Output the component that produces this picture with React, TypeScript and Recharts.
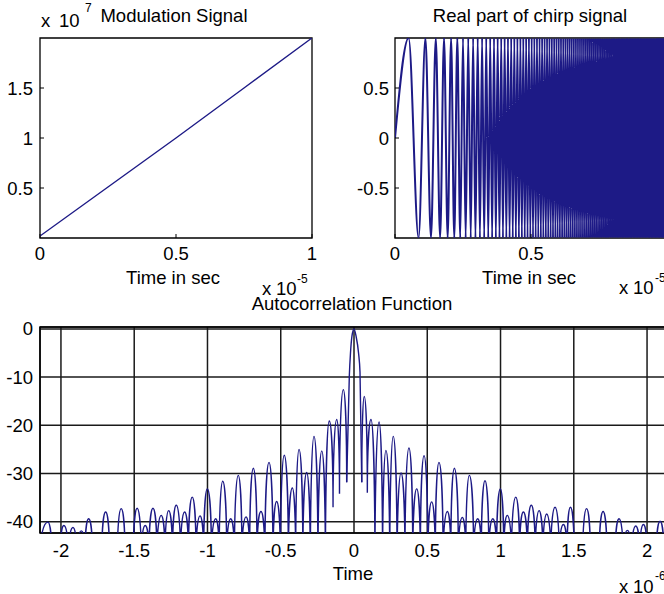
import React from 'react';
import { LineChart, Line, XAxis, YAxis, CartesianGrid, ReferenceArea } from 'recharts';

const FONT = '"Liberation Sans", Arial, Helvetica, sans-serif';
const LINE = '#1d1a86';

// ---------- Modulation signal (x 1e-5 s, x 1e7 Hz) ----------
const modTime = [0, 0.25, 0.5, 0.75, 1];
const modFreq = [0.02, 0.51, 1.0, 1.5, 2.0];
const modXTicks = [0, 0.5, 1];
const modYTicks = [0.5, 1, 1.5];

// ---------- Real part of chirp (x 1e-5 s) ----------
const chirpStartTime = 0;
const chirpStartValue = 0;
const chirpPeakValue = 1;
const chirpTroughValue = -1;
const chirpPeakTimes = [0.05, 0.1118, 0.15, 0.1803, 0.2062, 0.2291, 0.25, 0.2693, 0.2872, 0.3041, 0.3202, 0.3354, 0.35, 0.364, 0.3775, 0.3905, 0.4031, 0.4153, 0.4272, 0.4387, 0.45, 0.461, 0.4717, 0.4822, 0.4924, 0.5025, 0.5123, 0.522, 0.5315, 0.5408, 0.55, 0.559, 0.5678, 0.5766, 0.5852, 0.5937, 0.6021, 0.6103, 0.6185, 0.6265, 0.6344, 0.6422, 0.6499, 0.6576, 0.6652, 0.6727, 0.6801, 0.6874, 0.6946, 0.7018, 0.7089, 0.7159, 0.7228, 0.7297, 0.7365, 0.7433, 0.75, 0.7566, 0.7632, 0.7697, 0.7762, 0.7826, 0.789, 0.7953, 0.8016, 0.8078, 0.8139, 0.82, 0.8261, 0.8321, 0.8382, 0.8441, 0.85, 0.8558, 0.8617, 0.8675, 0.8732, 0.8789, 0.8846, 0.8902, 0.8958, 0.9013, 0.9068, 0.9123, 0.9178, 0.9233, 0.9287, 0.9341, 0.9394, 0.9447, 0.95, 0.9552, 0.9604, 0.9656, 0.9708, 0.976, 0.9811, 0.9861, 0.9912, 0.9962];
const chirpTroughTimes = [0.0866, 0.1323, 0.1658, 0.1936, 0.2179, 0.2398, 0.2598, 0.2784, 0.2958, 0.3122, 0.3279, 0.3428, 0.3571, 0.3708, 0.3841, 0.3969, 0.4093, 0.4213, 0.433, 0.4444, 0.4555, 0.4664, 0.477, 0.4873, 0.4975, 0.5074, 0.5172, 0.5268, 0.5362, 0.5454, 0.5545, 0.5634, 0.5723, 0.5809, 0.5895, 0.5979, 0.6062, 0.6144, 0.6225, 0.6305, 0.6383, 0.6461, 0.6538, 0.6614, 0.6689, 0.6764, 0.6837, 0.691, 0.6982, 0.7053, 0.7124, 0.7194, 0.7263, 0.7331, 0.7399, 0.7466, 0.7533, 0.7599, 0.7665, 0.773, 0.7794, 0.7858, 0.7921, 0.7984, 0.8047, 0.8108, 0.817, 0.8231, 0.8291, 0.8351, 0.8411, 0.847, 0.8529, 0.8588, 0.8646, 0.8703, 0.876, 0.8817, 0.8874, 0.893, 0.8986, 0.9041, 0.9096, 0.9151, 0.9206, 0.926, 0.9314, 0.9367, 0.9421, 0.9474, 0.9526, 0.9578, 0.9631, 0.9682, 0.9734, 0.9785, 0.9836, 0.9887, 0.9937, 0.9987];
const chirpXTicks = [0, 0.5];
const chirpYTicks = [-0.5, 0, 0.5];

// ---------- Autocorrelation (lag x 1e-6 s, dB): alternating nulls and lobe peaks ----------
const acLeft: [number, number][] = [
  [-2.143, -47], [-2.089, -40.1], [-2.063, -47], [-2.035, -44], [-2.006, -47], [-1.98, -40.8],
  [-1.949, -47], [-1.918, -41.2], [-1.891, -47], [-1.861, -41.9], [-1.836, -47], [-1.811, -39.4],
  [-1.785, -47], [-1.753, -44], [-1.721, -47], [-1.695, -38], [-1.669, -47], [-1.642, -44],
  [-1.615, -47], [-1.589, -37.3], [-1.563, -47], [-1.534, -44], [-1.506, -47], [-1.48, -37.2],
  [-1.452, -47], [-1.425, -40.8],
  [-1.399, -47], [-1.372, -37.2], [-1.345, -47], [-1.316, -38.7], [-1.29, -47], [-1.265, -37.7],
  [-1.239, -47], [-1.213, -36.6], [-1.184, -47], [-1.156, -38], [-1.13, -47], [-1.104, -34.9],
  [-1.078, -47], [-1.051, -38.8], [-1.026, -47], [-1.001, -33.2], [-0.973, -47], [-0.944, -39.4],
  [-0.92, -47], [-0.896, -31.6], [-0.869, -47], [-0.842, -39.4], [-0.816, -47], [-0.79, -30.4],
  [-0.765, -47], [-0.737, -39], [-0.712, -47], [-0.687, -28.9], [-0.662, -47], [-0.635, -37.9],
  [-0.608, -48], [-0.58, -27.7], [-0.553, -48], [-0.528, -35.8], [-0.502, -48], [-0.476, -26.2],
  [-0.448, -48], [-0.421, -33], [-0.398, -48], [-0.375, -25], [-0.349, -48], [-0.323, -29.8],
  [-0.298, -50], [-0.273, -22.3], [-0.246, -50], [-0.22, -25.3], [-0.195, -50], [-0.169, -19.1],
  [-0.143, -37], [-0.118, -18.8], [-0.099, -34.2], [-0.073, -12.6], [-0.05, -31.8],
];
const acMain: [number, number][] = [
  [-0.05, -31.8], [-0.032, -9.8], [-0.024, -5], [-0.014, -1.5], [0, 0],
  [0.014, -1.5], [0.031, -5], [0.041, -9], [0.053, -31.8],
];
const acRight: [number, number][] = [
  [0.053, -31.8], [0.07, -14], [0.091, -34], [0.116, -18.8], [0.143, -50], [0.171, -19.3], [0.195, -50],
  [0.218, -25.2], [0.244, -50], [0.268, -22.3], [0.294, -50], [0.321, -29.9], [0.348, -48],
  [0.375, -24.7], [0.401, -48], [0.428, -33.2], [0.453, -48], [0.478, -26.3], [0.504, -48],
  [0.53, -35.9], [0.555, -48], [0.58, -27.7], [0.608, -48], [0.637, -37.9], [0.661, -47],
  [0.685, -28.9], [0.712, -47], [0.739, -39.1], [0.763, -47], [0.787, -30.4], [0.816, -47],
  [0.844, -39.4], [0.869, -47], [0.894, -31.5], [0.92, -47], [0.947, -39.4], [0.973, -47],
  [0.999, -33.2], [1.022, -47], [1.046, -38.7], [1.075, -47], [1.104, -34.9], [1.13, -47],
  [1.156, -38], [1.183, -47], [1.21, -36.6], [1.237, -47], [1.263, -37.7], [1.289, -47],
  [1.315, -38.4], [1.343, -47], [1.372, -37], [1.401, -47], [1.429, -40.6], [1.454, -47],
  [1.477, -37], [1.503, -47], [1.532, -44], [1.561, -47], [1.587, -37.3], [1.613, -47],
  [1.643, -44], [1.674, -47], [1.7, -37.9], [1.726, -47], [1.754, -44], [1.783, -47],
  [1.809, -39.4], [1.837, -47], [1.866, -41.8], [1.894, -47], [1.923, -40.9], [1.949, -47],
  [1.975, -40.6], [2.001, -47], [2.032, -44], [2.063, -47], [2.089, -39.9], [2.115, -47], [2.143, -44],
];
const acXTicks = [-2, -1.5, -1, -0.5, 0, 0.5, 1, 1.5, 2];
const acYTicks = [-40, -30, -20, -10, 0];

// ---------- built tables ----------
const modData = modTime.map((t, i) => ({ t, v: modFreq[i] }));
const chirpData = [
  { t: chirpStartTime, v: chirpStartValue },
  ...[
    ...chirpPeakTimes.map((t) => ({ t, v: chirpPeakValue })),
    ...chirpTroughTimes.map((t) => ({ t, v: chirpTroughValue })),
  ].sort((a, b) => a.t - b.t),
];
const toRows = (pts: [number, number][]) => pts.map(([t, v]) => ({ t, v }));
const acLeftData = toRows(acLeft);
const acMainData = toRows(acMain);
const acRightData = toRows(acRight);

// Line style for dB side lobes: each segment leaves the lower point vertically and
// arrives at the upper point horizontally (quarter-ellipse arch).
function archCurve(context: any) {
  let pts: [number, number][] = [];
  const K = 0.5523;
  return {
    areaStart() {},
    areaEnd() {},
    lineStart() { pts = []; },
    lineEnd() {
      if (!pts.length) return;
      context.moveTo(pts[0][0], pts[0][1]);
      for (let i = 1; i < pts.length; i++) {
        const [x0, y0] = pts[i - 1];
        const [x1, y1] = pts[i];
        if (y1 < y0) {
          context.bezierCurveTo(x0, y0 + K * (y1 - y0), x1 - K * (x1 - x0), y1, x1, y1);
        } else {
          context.bezierCurveTo(x0 + K * (x1 - x0), y0, x1, y1 - K * (y1 - y0), x1, y1);
        }
      }
    },
    point(x: number, y: number) { pts.push([+x, +y]); },
  };
}

const FS = 18.5;
const tickStyle = { fill: '#000', fontSize: FS, fontFamily: FONT };
const tickLineStyle = { stroke: '#000', strokeWidth: 1 };

const AC_X: [number, number] = [-2.143, 2.143];
const AC_Y: [number, number] = [-42.35, 0.4];

export default function App() {
  return (
    <div style={{ position: 'absolute', left: 0, top: 0, width: 664, height: 594, overflow: 'hidden', background: '#fff' }}>
      {/* Top-left: Modulation Signal */}
      <div style={{ position: 'absolute', left: 0, top: 0 }}>
        <LineChart width={340} height={300} data={modData} margin={{ top: 37, right: 27, bottom: 32, left: 0 }}>
          <XAxis type="number" dataKey="t" domain={[0, 1]} ticks={modXTicks} allowDataOverflow height={30}
            tickLine={tickLineStyle} axisLine={false} tick={tickStyle} tickSize={-4} tickMargin={13} interval={0} />
          <XAxis xAxisId="top" orientation="top" type="number" dataKey="t" domain={[0, 1]} ticks={modXTicks} allowDataOverflow height={1}
            tickLine={tickLineStyle} axisLine={false} tick={false} tickSize={-4} interval={0} />
          <YAxis type="number" domain={[0, 2]} ticks={modYTicks} allowDataOverflow width={40}
            tickLine={tickLineStyle} axisLine={false} tick={tickStyle} tickSize={-4} tickMargin={11} interval={0} />
          <YAxis yAxisId="right" orientation="right" type="number" domain={[0, 2]} ticks={modYTicks} allowDataOverflow width={1}
            tickLine={tickLineStyle} axisLine={false} tick={false} tickSize={-4} interval={0} />
          <ReferenceArea x1={0} x2={1} y1={0} y2={2} fill="none" fillOpacity={0} stroke="#000" strokeWidth={1.3} />
          <Line type="linear" dataKey="v" stroke={LINE} strokeWidth={1.4} dot={false} isAnimationActive={false} />
        </LineChart>
      </div>

      {/* Top-right: Real part of chirp signal */}
      <div style={{ position: 'absolute', left: 332, top: 0 }}>
        <LineChart width={340} height={300} data={chirpData} margin={{ top: 37, right: 5, bottom: 32, left: 0 }}>
          <XAxis type="number" dataKey="t" domain={[0, 1]} ticks={chirpXTicks} allowDataOverflow height={30}
            tickLine={tickLineStyle} axisLine={false} tick={tickStyle} tickSize={-4} tickMargin={13} interval={0} />
          <XAxis xAxisId="top" orientation="top" type="number" dataKey="t" domain={[0, 1]} ticks={chirpXTicks} allowDataOverflow height={1}
            tickLine={tickLineStyle} axisLine={false} tick={false} tickSize={-4} interval={0} />
          <YAxis type="number" domain={[-1, 1]} ticks={chirpYTicks} allowDataOverflow width={63}
            tickLine={tickLineStyle} axisLine={false} tick={tickStyle} tickSize={-4} tickMargin={10} interval={0} />
          <Line type="monotone" dataKey="v" stroke={LINE} strokeWidth={2} dot={false} isAnimationActive={false} />
          <ReferenceArea x1={0} x2={1} y1={-1} y2={1} fill="none" fillOpacity={0} stroke="#000" strokeWidth={1.3} />
        </LineChart>
      </div>

      {/* Bottom: Autocorrelation Function */}
      <div style={{ position: 'absolute', left: 0, top: 280 }}>
        <LineChart width={680} height={314} margin={{ top: 47, right: 12, bottom: 31, left: 0 }}>
          <CartesianGrid stroke="#1a1a1a" strokeWidth={1.5} />
          <XAxis type="number" dataKey="t" domain={AC_X} ticks={acXTicks} allowDataOverflow height={30}
            tickLine={false} axisLine={false} tick={tickStyle} tickSize={6} tickMargin={5} interval={0} />
          <YAxis type="number" domain={AC_Y} ticks={acYTicks} allowDataOverflow width={40}
            tickLine={false} axisLine={false} tick={tickStyle} tickSize={5} tickMargin={2} interval={0} />
          <ReferenceArea x1={AC_X[0]} x2={AC_X[1]} y1={AC_Y[0]} y2={AC_Y[1]} fill="none" fillOpacity={0} stroke="#000" strokeWidth={1.5} />
          <Line data={acLeftData} type={archCurve as any} dataKey="v" stroke={LINE} strokeWidth={1.4} dot={false} isAnimationActive={false} />
          <Line data={acMainData} type="monotone" dataKey="v" stroke={LINE} strokeWidth={1.4} dot={false} isAnimationActive={false} />
          <Line data={acRightData} type={archCurve as any} dataKey="v" stroke={LINE} strokeWidth={1.4} dot={false} isAnimationActive={false} />
        </LineChart>
      </div>

      {/* Titles and labels */}
      <svg width={664} height={594} style={{ position: 'absolute', left: 0, top: 0, pointerEvents: 'none' }}
        fontFamily={FONT} fill="#000">
        <text x={41} y={27} fontSize={FS}>x</text>
        <text x={59} y={27} fontSize={FS}>10</text>
        <text x={85} y={12} fontSize={12}>7</text>
        <text x={174} y={22} fontSize={FS} textAnchor="middle">Modulation Signal</text>
        <text x={530} y={22} fontSize={FS} textAnchor="middle">Real part of chirp signal</text>

        <text x={173} y={284} fontSize={FS} textAnchor="middle">Time in sec</text>
        <text x={262} y={295} fontSize={FS}>x</text>
        <text x={276} y={295} fontSize={FS}>10</text>
        <text x={297} y={283} fontSize={12}>-5</text>

        <text x={529} y={284} fontSize={FS} textAnchor="middle">Time in sec</text>
        <text x={619} y={294} fontSize={FS}>x</text>
        <text x={633} y={294} fontSize={FS}>10</text>
        <text x={655} y={282} fontSize={12}>-5</text>

        <text x={352} y={310} fontSize={FS} textAnchor="middle">Autocorrelation Function</text>
        <text x={353} y={580} fontSize={FS} textAnchor="middle">Time</text>
        <text x={619} y={593} fontSize={FS}>x</text>
        <text x={633} y={593} fontSize={FS}>10</text>
        <text x={655} y={580} fontSize={12}>-6</text>
      </svg>
    </div>
  );
}
